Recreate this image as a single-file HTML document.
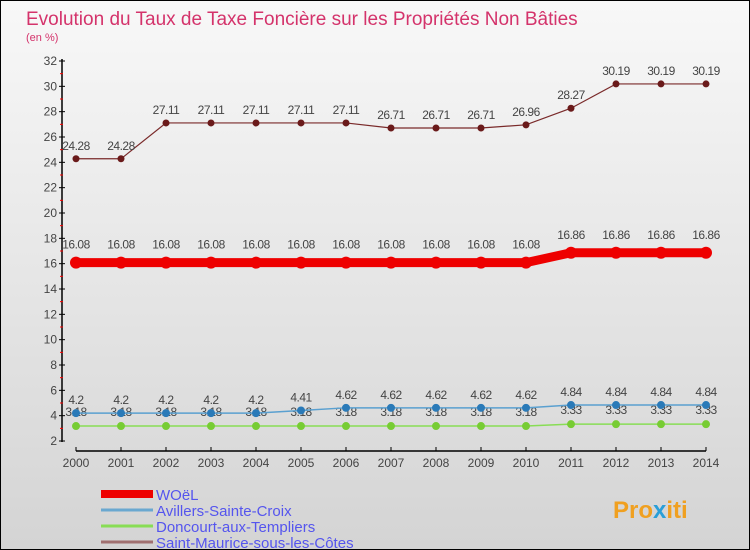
<!DOCTYPE html>
<html><head><meta charset="utf-8"><style>
body{margin:0}
#c{width:748px;height:548px;border:1px solid #000;background:linear-gradient(#f8f8f8,#d4d4d4);position:relative;overflow:hidden;font-family:"Liberation Sans",sans-serif}
</style></head><body>
<div id="c">
<svg id="s" width="748" height="548" xmlns="http://www.w3.org/2000/svg">
<text x="25" y="24" font-size="19" fill="#d4336b">Evolution du Taux de Taxe Foncière sur les Propriétés Non Bâties</text>
<text x="25" y="40" font-size="11" fill="#d4336b">(en %)</text>
<g id="g"></g>
<text x="612" y="517" font-size="24" font-weight="bold" fill="#f0a020">Pro<tspan fill="#2a9fd8">x</tspan>iti</text>
</svg>
</div>
<script>
const years=[2000,2001,2002,2003,2004,2005,2006,2007,2008,2009,2010,2011,2012,2013,2014];
const woel=[16.08,16.08,16.08,16.08,16.08,16.08,16.08,16.08,16.08,16.08,16.08,16.86,16.86,16.86,16.86];
const avillers=[4.2,4.2,4.2,4.2,4.2,4.41,4.62,4.62,4.62,4.62,4.62,4.84,4.84,4.84,4.84];
const doncourt=[3.18,3.18,3.18,3.18,3.18,3.18,3.18,3.18,3.18,3.18,3.18,3.33,3.33,3.33,3.33];
const stmaurice=[24.28,24.28,27.11,27.11,27.11,27.11,27.11,26.71,26.71,26.71,26.96,28.27,30.19,30.19,30.19];
const yTicks=[2,4,6,8,10,12,14,16,18,20,22,24,26,28,30,32];
const NS="http://www.w3.org/2000/svg";
const g=document.getElementById('g');
const X=i=>75+i*45;
const Y=v=>440-(v-2)*(380/30);
function el(t,a){const e=document.createElementNS(NS,t);for(const k in a)e.setAttribute(k,a[k]);g.appendChild(e);return e;}
const ax=el('line',{x1:61,y1:58,x2:61,y2:441,stroke:'#000','stroke-width':1.5});


const xa=el('line',{x1:75,y1:450,x2:705,y2:450,stroke:'#000','stroke-width':1.5});


yTicks.forEach((v,k)=>{
 el('line',{x1:58,y1:Y(v),x2:64,y2:Y(v),stroke:'#000'});
 if(k<yTicks.length-1) el('line',{x1:59,y1:Y(v+1),x2:62,y2:Y(v+1),stroke:'#f00'});
 const t=el('text',{x:56,y:Y(v)+4,'font-size':12,fill:'#444','text-anchor':'end'});
 t.textContent=v;
 
 
});
years.forEach((y,i)=>{
 el('line',{x1:X(i),y1:446,x2:X(i),y2:450,stroke:'#000'});
 const t=el('text',{x:X(i),y:466,'font-size':12,fill:'#444','text-anchor':'middle'});
 t.textContent=y;
 
 
});
function series(name,vals,color,w,r,dot,labOff){
 const p=el('polyline',{points:vals.map((v,i)=>X(i)+','+Y(v)).join(' '),fill:'none',stroke:color,'stroke-width':w});
 
 
 vals.forEach((v,i)=>{
  const c=el('circle',{cx:X(i),cy:Y(v),r:r,fill:dot});
  
  
  const t=el('text',{x:X(i),y:Y(v)+labOff,'font-size':12,fill:'#444','text-anchor':'middle','letter-spacing':'-0.5'});
  t.textContent=v;
  
  
 });
}
series('doncourt',doncourt,'#88dd55',1.5,4,'#77cc33',-10);
series('avillers',avillers,'#5aa0d0',1.5,4,'#2a7ab8',-9);
series('st-maurice',stmaurice,'#7a2a2a',1.2,3.5,'#6a1a1a',-9);
series('woel',woel,'#ee0000',9,6,'#ee0000',-14);
const leg=[['WOëL','#ee0000',8],['Avillers-Sainte-Croix','#6aa8d0',3],['Doncourt-aux-Templiers','#88dd55',3],['Saint-Maurice-sous-les-Côtes','#a07070',3]];
leg.forEach((l,i)=>{
 const y=493+i*16;
 el('line',{x1:100,y1:y,x2:152,y2:y,stroke:l[1],'stroke-width':l[2]});
 const t=el('text',{x:155,y:y+6,'font-size':15,fill:'#5555ee'});
 t.textContent=l[0];
 
 
});
</script>
</body></html>
